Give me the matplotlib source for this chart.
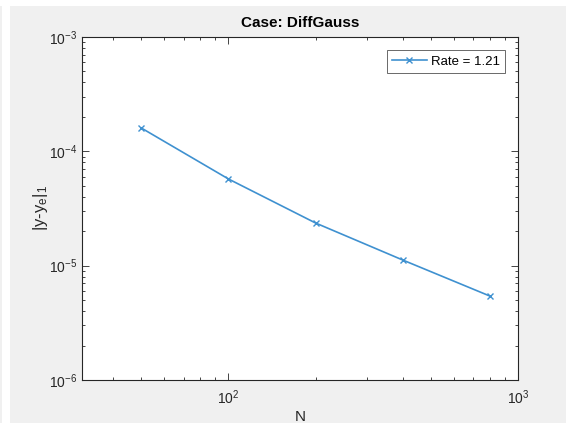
import matplotlib.pyplot as plt
import matplotlib.patches as patches
import numpy as np

plt.rcParams['font.family'] = ['Liberation Sans', 'DejaVu Sans']
plt.rcParams['mathtext.fontset'] = 'custom'
plt.rcParams['mathtext.rm'] = 'Liberation Sans'
plt.rcParams['mathtext.it'] = 'Liberation Sans'

# convergence data
N = [50, 100, 200, 400, 800]
err = [1.60e-4, 5.73e-5, 2.36e-5, 1.12e-5, 5.42e-6]
rate_label = "Rate = 1.21"

fig = plt.figure(figsize=(5.66, 4.23), dpi=100)
fig.patch.set_facecolor('#f0f0f0')

# white strips at the top and left edges
fig.add_artist(patches.Rectangle((0, 1 - 6/423), 1, 6/423, transform=fig.transFigure,
                                 facecolor='white', edgecolor='none', zorder=0))
fig.add_artist(patches.Rectangle((2/566, 0), 8/566, 1, transform=fig.transFigure,
                                 facecolor='white', edgecolor='none', zorder=0))

ax = fig.add_axes([82/566, 1 - 380/423, 436/566, 343/423])
ax.plot(N, err, marker='x', color='#3f91d0', lw=1.2, ms=5, mew=1.0, label=rate_label)
ax.set_xscale('log')
ax.set_yscale('log')
ax.set_xlim(31.2, 1000)
ax.set_ylim(1e-6, 1e-3)

for s in ax.spines.values():
    s.set_color('#262626')
    s.set_linewidth(0.8)
ax.tick_params(which='both', direction='in', top=True, right=True, colors='#262626',
               labelsize=10)
ax.tick_params(which='major', length=5, width=0.6)
ax.tick_params(which='minor', length=2.5, width=0.6)
ax.tick_params(axis='x', pad=6)

ax.set_title("Case: DiffGauss", fontsize=11, fontweight='bold', color='black', pad=7)
ax.set_xlabel("N", fontsize=11, color='#262626', labelpad=2)
ax.set_ylabel(r'|y-y$_{e}$|$_{1}$', fontsize=12, color='#262626', labelpad=-1)

leg = ax.legend(loc='upper right', fontsize=9.5, frameon=True, fancybox=False,
                borderaxespad=1.0, handlelength=2.6, handletextpad=0.3, borderpad=0.4)
leg.get_frame().set_edgecolor('#262626')
leg.get_frame().set_linewidth(0.6)

fig.savefig('out.png', dpi=100, facecolor=fig.get_facecolor())
